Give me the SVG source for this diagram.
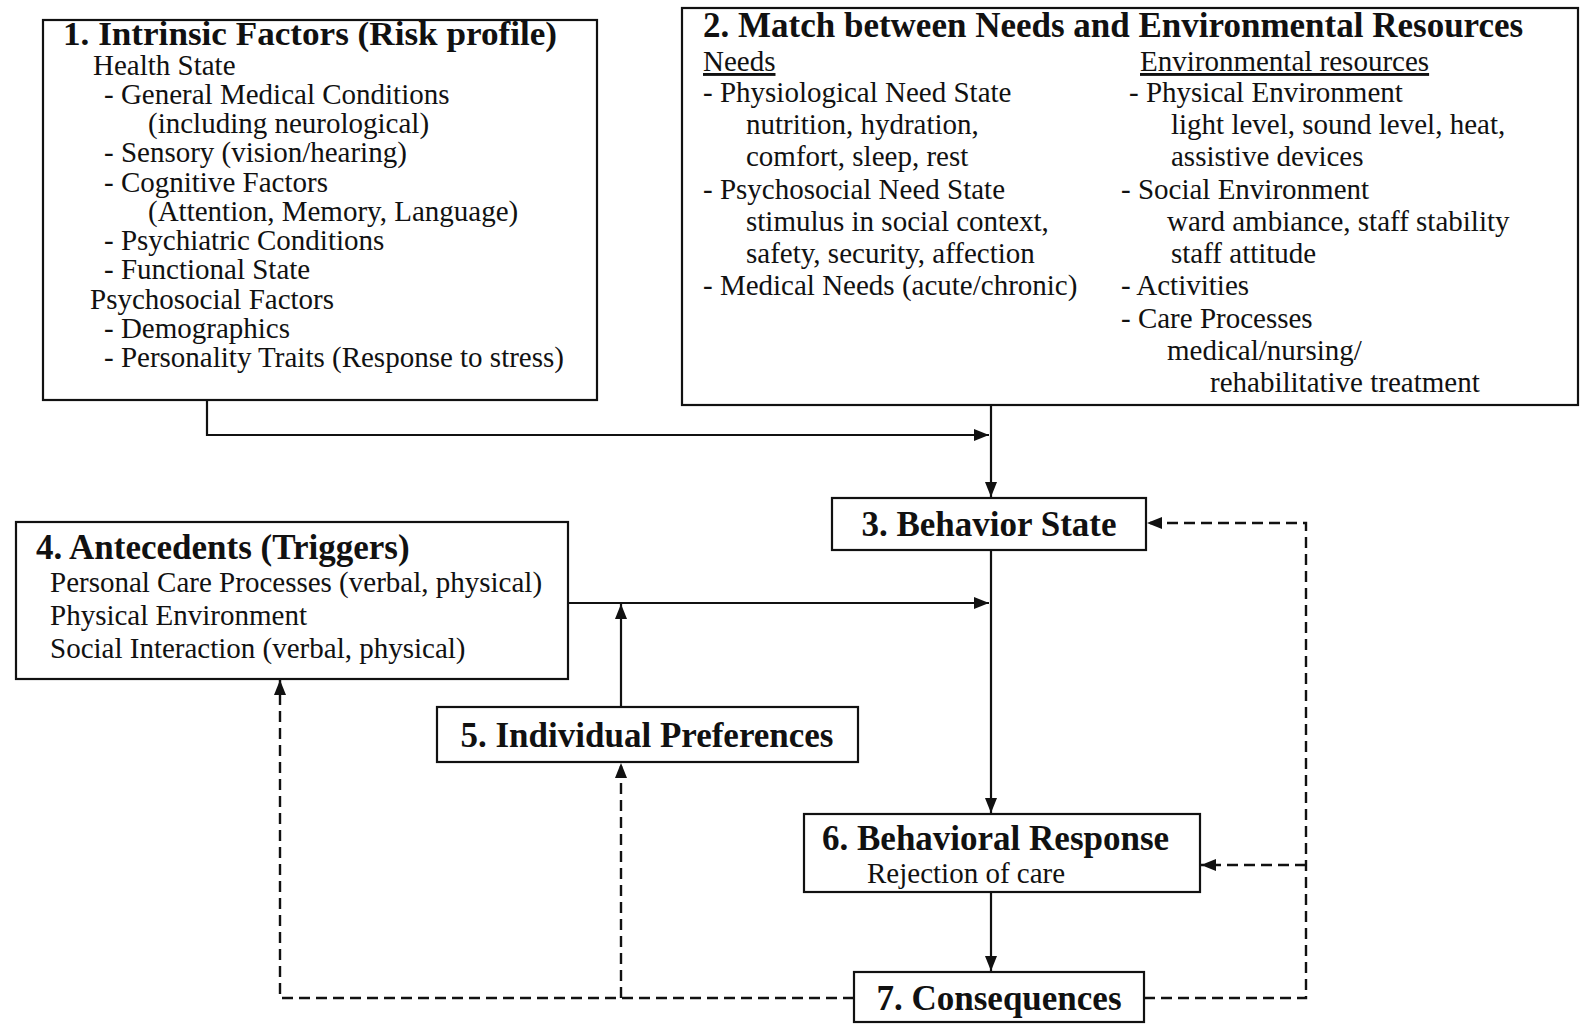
<svg xmlns="http://www.w3.org/2000/svg" width="1581" height="1025" viewBox="0 0 1581 1025">
<style>
.box{fill:#fff;stroke:#111;stroke-width:2.2}
text{font-family:"Liberation Serif","Times New Roman",serif;fill:#111}
.t{font-weight:bold;font-size:35px}
.b{font-size:29px}
.c{text-anchor:middle}
.ln{fill:none;stroke:#111;stroke-width:2.2}
.ds{fill:none;stroke:#111;stroke-width:2.4;stroke-dasharray:11 6}
</style>
<defs>
<marker id="ah" markerUnits="userSpaceOnUse" markerWidth="16" markerHeight="14" refX="15" refY="7" orient="auto">
<path d="M0,1 L15,7 L0,13 Z" fill="#111"/>
</marker>
</defs>
<rect width="1581" height="1025" fill="#fff"/>
<g id="connectors">
<path class="ln" d="M207,400 V435 H989" marker-end="url(#ah)"/>
<path class="ln" d="M991,405 V497" marker-end="url(#ah)"/>
<path class="ln" d="M991,550 V813" marker-end="url(#ah)"/>
<path class="ln" d="M568,603 H989" marker-end="url(#ah)"/>
<path class="ln" d="M621,707 V604" marker-end="url(#ah)"/>
<path class="ln" d="M991,892 V971" marker-end="url(#ah)"/>
<path class="ds" d="M854,998 H280 V680" marker-end="url(#ah)"/>
<path class="ds" d="M621,998 V763" marker-end="url(#ah)"/>
<path class="ds" d="M1144,998 H1306 V523 H1147" marker-end="url(#ah)"/>
<path class="ds" d="M1306,865 H1201" marker-end="url(#ah)"/>
</g>
<g id="node1">
<rect class="box" x="43" y="20" width="554" height="380"/>
<text class="t" x="63" y="45" style="font-size:33px" textLength="494" lengthAdjust="spacingAndGlyphs">1. Intrinsic Factors (Risk profile)</text>
<text class="b" x="93" y="75">Health State</text>
<text class="b" x="104" y="104">- General Medical Conditions</text>
<text class="b" x="148" y="133">(including neurological)</text>
<text class="b" x="104" y="162">- Sensory (vision/hearing)</text>
<text class="b" x="104" y="192">- Cognitive Factors</text>
<text class="b" x="148" y="221">(Attention, Memory, Language)</text>
<text class="b" x="104" y="250">- Psychiatric Conditions</text>
<text class="b" x="104" y="279">- Functional State</text>
<text class="b" x="90" y="309">Psychosocial Factors</text>
<text class="b" x="104" y="338">- Demographics</text>
<text class="b" x="104" y="367">- Personality Traits (Response to stress)</text>
</g>
<g id="node2">
<rect class="box" x="682" y="8" width="896" height="397"/>
<text class="t" x="703" y="37">2. Match between Needs and Environmental Resources</text>
<text class="b" x="703" y="71" text-decoration="underline">Needs</text>
<text class="b" x="703" y="102">- Physiological Need State</text>
<text class="b" x="746" y="134">nutrition, hydration,</text>
<text class="b" x="746" y="166">comfort, sleep, rest</text>
<text class="b" x="703" y="199">- Psychosocial Need State</text>
<text class="b" x="746" y="231">stimulus in social context,</text>
<text class="b" x="746" y="263">safety, security, affection</text>
<text class="b" x="703" y="295">- Medical Needs (acute/chronic)</text>
<text class="b" x="1140" y="71" text-decoration="underline">Environmental resources</text>
<text class="b" x="1129" y="102">- Physical Environment</text>
<text class="b" x="1171" y="134">light level, sound level, heat,</text>
<text class="b" x="1171" y="166">assistive devices</text>
<text class="b" x="1121" y="199">- Social Environment</text>
<text class="b" x="1167" y="231">ward ambiance, staff stability</text>
<text class="b" x="1171" y="263">staff attitude</text>
<text class="b" x="1121" y="295">- Activities</text>
<text class="b" x="1121" y="328">- Care Processes</text>
<text class="b" x="1167" y="360">medical/nursing/</text>
<text class="b" x="1210" y="392">rehabilitative treatment</text>
</g>
<g id="node3">
<rect class="box" x="832" y="498" width="314" height="52"/>
<text class="t c" x="989" y="536">3. Behavior State</text>
</g>
<g id="node4">
<rect class="box" x="16" y="522" width="552" height="157"/>
<text class="t" x="36" y="559">4. Antecedents (Triggers)</text>
<text class="b" x="50" y="592">Personal Care Processes (verbal, physical)</text>
<text class="b" x="50" y="625">Physical Environment</text>
<text class="b" x="50" y="658">Social Interaction (verbal, physical)</text>
</g>
<g id="node5">
<rect class="box" x="437" y="707" width="421" height="55"/>
<text class="t c" x="647" y="747">5. Individual Preferences</text>
</g>
<g id="node6">
<rect class="box" x="804" y="814" width="396" height="78"/>
<text class="t" x="822" y="850">6. Behavioral Response</text>
<text class="b" x="867" y="883">Rejection of care</text>
</g>
<g id="node7">
<rect class="box" x="854" y="972" width="290" height="50"/>
<text class="t c" x="999" y="1010">7. Consequences</text>
</g>
</svg>
